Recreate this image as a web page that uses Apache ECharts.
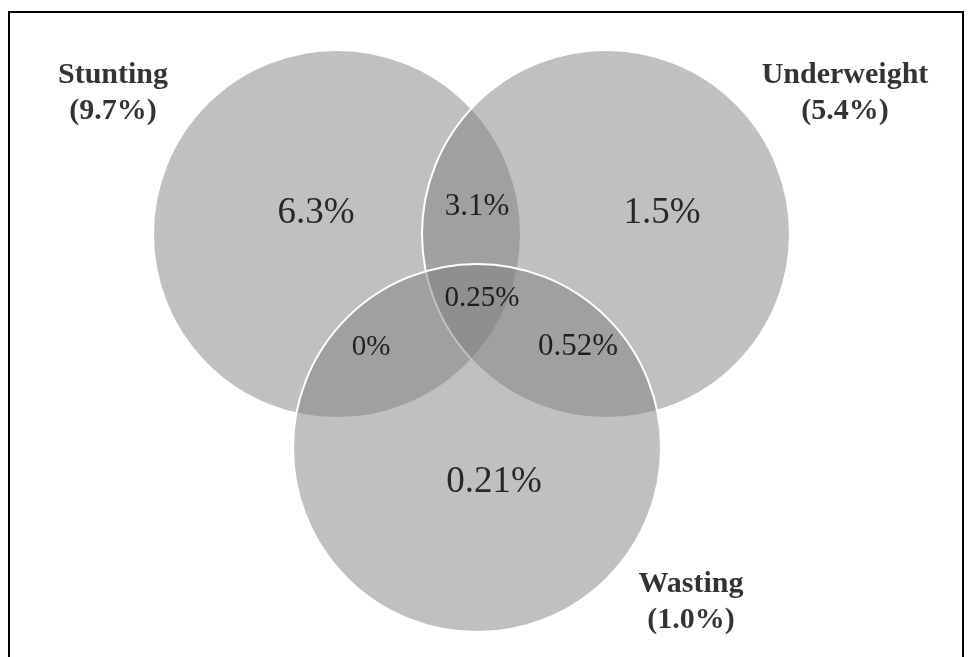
<!DOCTYPE html>
<html>
<head>
<meta charset="utf-8">
<script src="https://cdn.jsdelivr.net/npm/echarts@6/dist/echarts.min.js"></script>
<style>
html,body{margin:0;padding:0;background:#fff;}
#chart{width:970px;height:657px;}
</style>
</head>
<body>
<div id="chart"></div>
<script>
// ---- data ----
var setNames = ['Stunting', 'Underweight', 'Wasting'];
var setTotals = ['9.7%', '5.4%', '1.0%'];
var regionNames = ['Stunting only', 'Stunting ∩ Underweight', 'Underweight only', 'All three', 'Stunting ∩ Wasting', 'Underweight ∩ Wasting', 'Wasting only'];
var regionValues = ['6.3%', '3.1%', '1.5%', '0.25%', '0%', '0.52%', '0.21%'];

// ---- layout (schematic Venn geometry, axis units) ----
var circleLayout = [[337, 234], [606, 234], [477, 448]];
var circleRadius = 184;
var regionLayout = [[316, 213], [477, 207], [662, 213], [482, 298], [371, 347], [578, 347], [494, 482]];
var regionFont = [37, 31, 37, 29, 29, 31, 37];
var setLabelLayout = [[113, 93], [845, 93], [691, 602]];

var chart = echarts.init(document.getElementById('chart'), null, {renderer: 'canvas'});

var circleData = setNames.map(function (n, i) {
  return {name: n, value: [circleLayout[i][0], circleLayout[i][1], circleRadius]};
});
var regionData = regionValues.map(function (v, i) {
  return {name: regionNames[i], value: [regionLayout[i][0], regionLayout[i][1]], label: {fontSize: regionFont[i]}};
});
var setLabelData = setNames.map(function (n, i) {
  return {name: n, value: [setLabelLayout[i][0], setLabelLayout[i][1]]};
});

chart.setOption({
  animation: false,
  backgroundColor: '#ffffff',
  grid: {left: 0, right: 0, top: 0, bottom: 0},
  xAxis: {type: 'value', min: 0, max: 970, show: false},
  yAxis: {type: 'value', min: 0, max: 657, inverse: true, show: false},
  graphic: [{
    type: 'rect',
    shape: {x: 9, y: 12, width: 954, height: 700},
    style: {fill: 'none', stroke: '#000', lineWidth: 2},
    z: 100
  }],
  series: [
    {
      type: 'custom',
      coordinateSystem: 'cartesian2d',
      data: circleData,
      renderItem: function (params, api) {
        var c = api.coord([api.value(0), api.value(1)]);
        var r = api.size([api.value(2), 0])[0];
        return {
          type: 'circle',
          shape: {cx: c[0], cy: c[1], r: r},
          style: {fill: 'rgba(127,127,127,0.49)', stroke: '#ffffff', lineWidth: 2}
        };
      },
      z: 1
    },
    {
      type: 'scatter',
      data: regionData,
      symbolSize: 0,
      z: 5,
      label: {
        show: true,
        position: 'inside',
        formatter: function (p) { return regionValues[p.dataIndex]; },
        fontFamily: 'Liberation Serif',
        color: '#000000',
        textBorderWidth: 0
      }
    },
    {
      type: 'scatter',
      data: setLabelData,
      symbolSize: 0,
      z: 5,
      label: {
        show: true,
        position: 'inside',
        formatter: function (p) { return setNames[p.dataIndex] + '\n(' + setTotals[p.dataIndex] + ')'; },
        fontFamily: 'Liberation Serif',
        fontWeight: 'bold',
        fontSize: 30,
        lineHeight: 36,
        align: 'center',
        color: '#000000',
        textBorderWidth: 0
      }
    }
  ]
});
</script>
</body>
</html>
